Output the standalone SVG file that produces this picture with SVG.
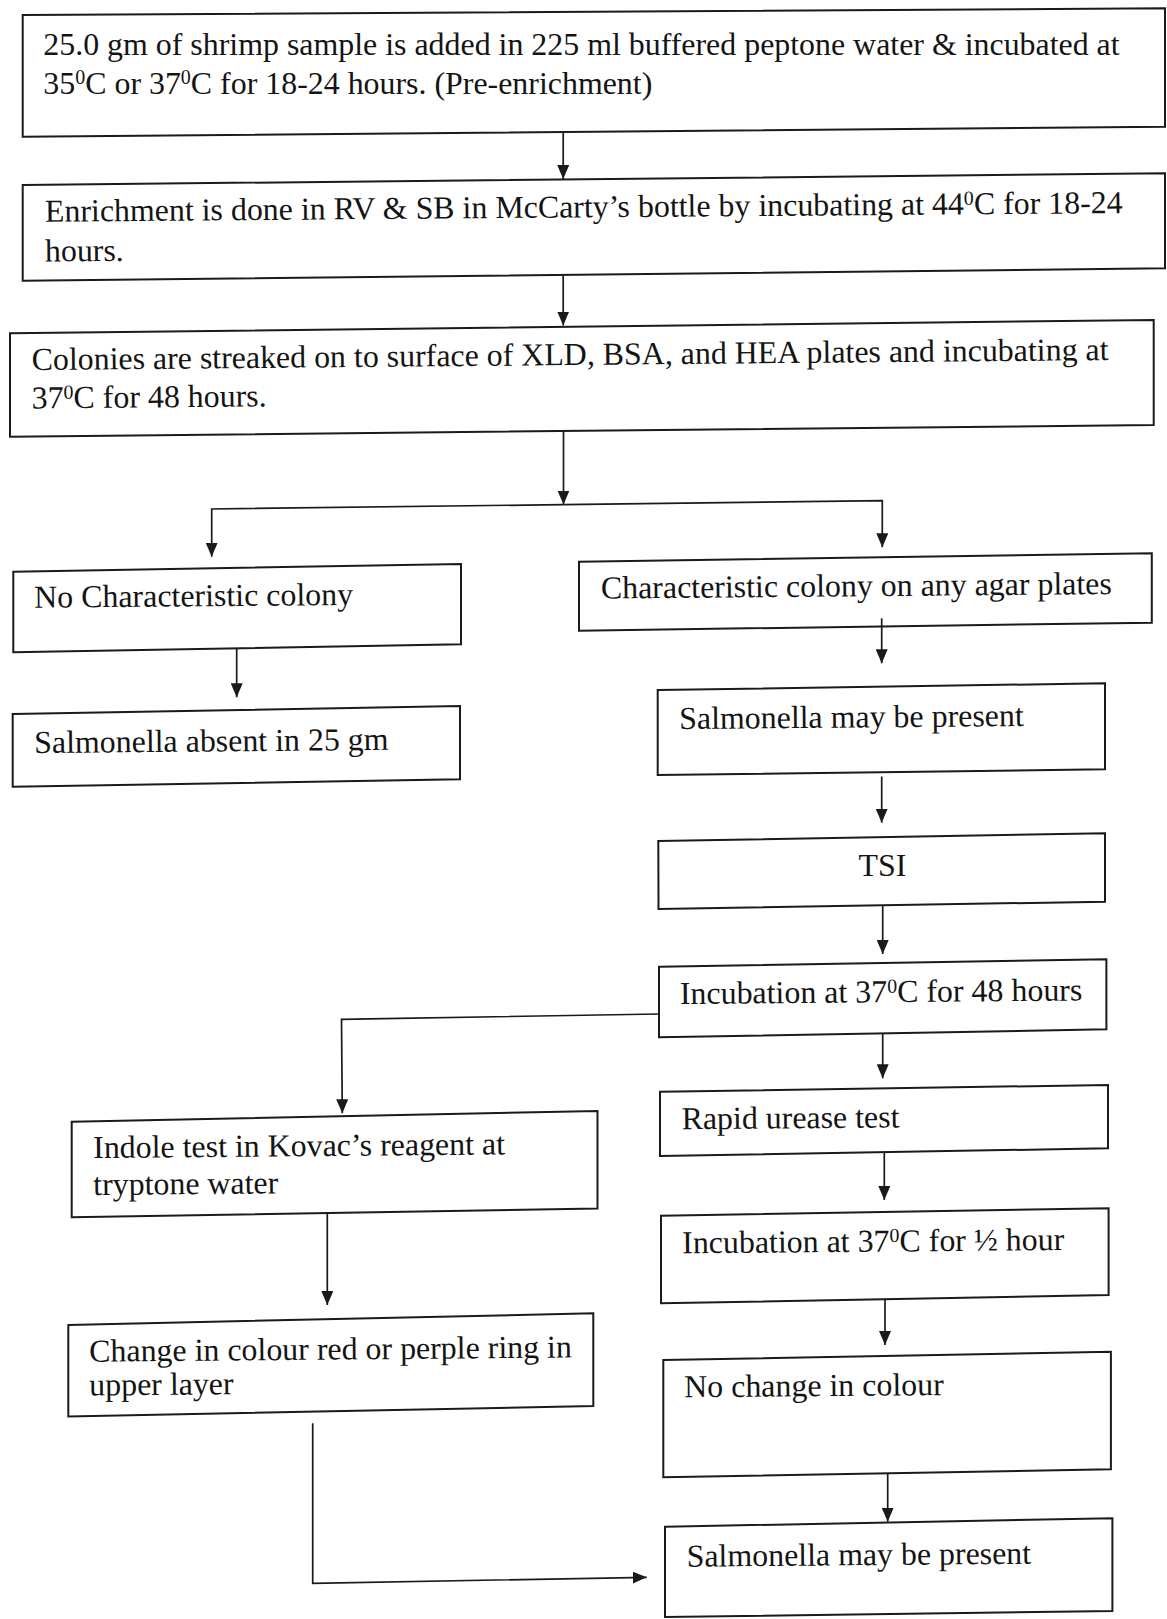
<svg xmlns="http://www.w3.org/2000/svg" width="1167" height="1619" viewBox="0 0 1167 1619">
<style>
.box{fill:none;stroke:#1a1a1a;stroke-width:2;stroke-linejoin:miter}
.t{font-family:"Liberation Serif","Times New Roman",serif;font-size:31.9px;fill:#141414}
.sup{font-size:20px}
.c{fill:none;stroke:#1a1a1a;stroke-width:1.7;marker-end:url(#ah)}
</style>
<defs>
<marker id="ah" markerUnits="userSpaceOnUse" markerWidth="14" markerHeight="12" viewBox="0 0 14 12" refX="14" refY="6" orient="auto">
<path d="M0,0 L14,6 L0,12 Z" fill="#1a1a1a"/>
</marker>
</defs>
<rect x="0" y="0" width="1167" height="1619" fill="#ffffff"/>

<g id="connectors">
<path class="c" d="M563.2,132 L563.2,179"/>
<path class="c" d="M563.2,275 L563.2,325.5"/>
<path class="c" d="M563.5,431 L563.5,504.5"/>
<path class="c" d="M563.5,504.6 L211.7,509 L211.7,556.7"/>
<path class="c" d="M563.5,504.6 L882.3,500.7 L882.3,547.3"/>
<path class="c" d="M236.7,648.3 L236.7,697.3"/>
<path class="c" d="M881.7,618.3 L881.7,663.3"/>
<path class="c" d="M881.7,776.5 L881.7,822.7"/>
<path class="c" d="M882.7,905.5 L882.7,954"/>
<path class="c" d="M659,1014 L341.5,1019.3 L342.3,1113.3"/>
<path class="c" d="M882.7,1033.3 L882.7,1078.3"/>
<path class="c" d="M884.3,1152 L884.3,1200"/>
<path class="c" d="M885,1299 L885,1345"/>
<path class="c" d="M887.7,1473 L887.7,1521.7"/>
<path class="c" d="M327.3,1212 L327.3,1305"/>
<path class="c" d="M312.7,1423.3 L312.7,1583.3 L646.7,1577.3"/>
</g>

<g id="n-preenrichment">
<polygon class="box" points="22.7,15 1165,8.3 1165,126.7 22.7,136.7"/>
<text class="t" x="43.3" y="55">25.0 gm of shrimp sample is added in 225 ml buffered peptone water &amp; incubated at</text>
<text class="t" x="43.3" y="93.5">35<tspan class="sup" dy="-9.5">0</tspan><tspan dy="9.5">C or 37</tspan><tspan class="sup" dy="-9.5">0</tspan><tspan dy="9.5">C for 18-24 hours. (Pre-enrichment)</tspan></text>
</g>

<g id="n-enrichment">
<polygon class="box" points="22.7,185 1165,173.3 1165,268.3 22.7,280.7"/>
<text class="t" x="45" y="221.7" transform="rotate(-0.46 45 221.7)">Enrichment is done in RV &amp; SB in McCarty’s bottle by incubating at 44<tspan class="sup" dy="-9.5">0</tspan><tspan dy="9.5">C for 18-24</tspan></text>
<text class="t" x="45" y="261.5" transform="rotate(-0.46 45 261.5)">hours.</text>
</g>

<g id="n-streak">
<polygon class="box" points="10,333.3 1153.7,320 1153.7,425 10,436.7"/>
<text class="t" x="31.7" y="370" transform="rotate(-0.53 31.7 370)">Colonies are streaked on to surface of XLD, BSA, and HEA plates and incubating at</text>
<text class="t" x="31.7" y="408.5" transform="rotate(-0.53 31.7 408.5)">37<tspan class="sup" dy="-9.5">0</tspan><tspan dy="9.5">C for 48 hours.</tspan></text>
</g>

<g id="n-no-char">
<polygon class="box" points="13.3,571.7 461,564 461,644.3 13.3,652.3"/>
<text class="t" x="34.3" y="607.7" transform="rotate(-0.5 34.3 607.7)">No Characteristic colony</text>
</g>

<g id="n-absent">
<polygon class="box" points="12.7,714 460,706 460,779.3 12.7,786.7"/>
<text class="t" x="34.3" y="753" transform="rotate(-0.5 34.3 753)">Salmonella absent in 25 gm</text>
</g>

<g id="n-char">
<polygon class="box" points="579,561.7 1151.8,553.3 1151.8,622.7 579,630.7"/>
<text class="t" x="601" y="598.5" transform="rotate(-0.5 601 598.5)">Characteristic colony on any agar plates</text>
</g>

<g id="n-maybe1">
<polygon class="box" points="657.7,690 1105,683.3 1105,769.3 657.7,775"/>
<text class="t" x="679.3" y="729" transform="rotate(-0.5 679.3 729)">Salmonella may be present</text>
</g>

<g id="n-tsi">
<polygon class="box" points="658.3,841 1105,833.3 1105,901.7 658.5,909"/>
<text class="t" x="882.5" y="876" text-anchor="middle">TSI</text>
</g>

<g id="n-inc48">
<polygon class="box" points="659,966.7 1106.4,959.3 1106.4,1029.3 659,1037.3"/>
<text class="t" x="680" y="1004" transform="rotate(-0.5 680 1004)">Incubation at 37<tspan class="sup" dy="-9.5">0</tspan><tspan dy="9.5">C for 48 hours</tspan></text>
</g>

<g id="n-urease">
<polygon class="box" points="660,1091.7 1108,1085 1108,1148.3 660,1156"/>
<text class="t" x="681.7" y="1129.3" transform="rotate(-0.5 681.7 1129.3)">Rapid urease test</text>
</g>

<g id="n-inchalf">
<polygon class="box" points="661,1215.7 1108.6,1208.3 1108.6,1295 661,1303.3"/>
<text class="t" x="682.3" y="1253.3" transform="rotate(-0.5 682.3 1253.3)">Incubation at 37<tspan class="sup" dy="-9.5">0</tspan><tspan dy="9.5">C for ½ hour</tspan></text>
</g>

<g id="n-nochange">
<polygon class="box" points="663.3,1360 1110.9,1351.7 1110.9,1469.3 663.3,1477.3"/>
<text class="t" x="684.3" y="1397.3" transform="rotate(-0.5 684.3 1397.3)">No change in colour</text>
</g>

<g id="n-maybe2">
<polygon class="box" points="665,1526.7 1112.4,1518.3 1112.4,1611 665,1617"/>
<text class="t" x="686.7" y="1566.7" transform="rotate(-0.5 686.7 1566.7)">Salmonella may be present</text>
</g>

<g id="n-indole">
<polygon class="box" points="71.7,1121.7 597.5,1111 597.5,1208.5 71.7,1217.3"/>
<text class="t" x="93.3" y="1158" transform="rotate(-0.5 93.3 1158)">Indole test in Kovac’s reagent at</text>
<text class="t" x="93.3" y="1195" transform="rotate(-0.5 93.3 1195)">tryptone water</text>
</g>

<g id="n-change">
<polygon class="box" points="68.3,1325 593.3,1313.3 593.3,1406 68.3,1416.5"/>
<text class="t" x="89.3" y="1361.7" transform="rotate(-0.5 89.3 1361.7)">Change in colour red or perple ring in</text>
<text class="t" x="89.3" y="1395.5" transform="rotate(-0.5 89.3 1395.5)">upper layer</text>
</g>
</svg>
